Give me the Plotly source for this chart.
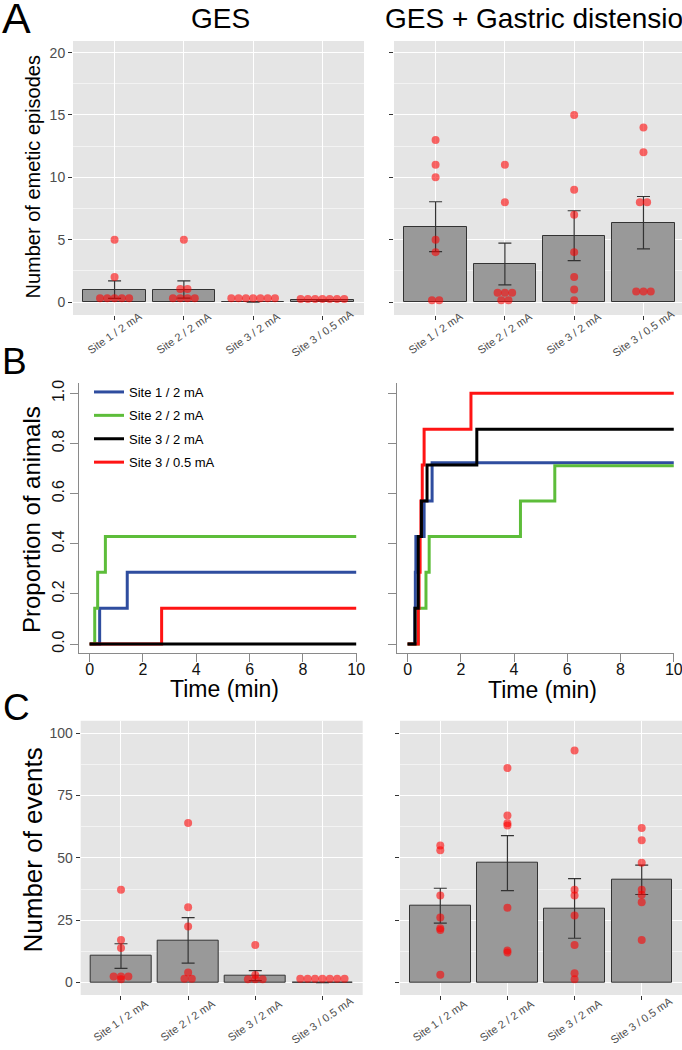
import plotly.graph_objects as go

W, H = 682, 1050
FONT = "Liberation Sans, Arial, Helvetica, sans-serif"

# ---------------- data ----------------
categories = ["Site 1 / 2 mA", "Site 2 / 2 mA", "Site 3 / 2 mA", "Site 3 / 0.5 mA"]
cat_pos = [1, 2, 3, 4]

# Panel A - emetic episodes (GES)
a_ges_mean = [1.0, 1.0, 0.0, 0.15]
a_ges_se = [0.70, 0.69, 0.0, 0.0]
a_ges_pts = [
    [5, 2, 0.3, 0.3, 0.3, 0.3, 0.3],
    [5, 1.05, 1.05, 0.3, 0.3, 0.3, 0.3],
    [0.3, 0.3, 0.3, 0.3, 0.3, 0.3, 0.3],
    [0.25, 0.25, 0.25, 0.25, 0.25, 0.25, 0.25],
]
# Panel A - emetic episodes (GES + gastric distension)
a_gd_mean = [6.04, 3.05, 5.32, 6.36]
a_gd_se = [2.0, 1.68, 2.0, 2.1]
a_gd_pts = [
    [13, 11, 10, 5, 4, 0.15, 0.15],
    [11, 8, 0.75, 0.75, 0.75, 0.15, 0.15],
    [15, 9, 7, 4, 2, 1, 0.15],
    [14, 12, 8, 8, 0.85, 0.85, 0.85],
]

# Panel B - cumulative proportion of animals (time in min)
b_ges_t = {
    "Site 1 / 2 mA": [0, 0.375, 1.41, 10],
    "Site 2 / 2 mA": [0, 0.19, 0.30, 0.59, 10],
    "Site 3 / 0.5 mA": [0, 2.70, 10],
    "Site 3 / 2 mA": [0, 10],
}
b_ges_p = {
    "Site 1 / 2 mA": [0, 0.143, 0.286, 0.286],
    "Site 2 / 2 mA": [0, 0.143, 0.286, 0.429, 0.429],
    "Site 3 / 0.5 mA": [0, 0.143, 0.143],
    "Site 3 / 2 mA": [0, 0],
}
b_gd_t = {
    "Site 1 / 2 mA": [0, 0.27, 0.29, 0.31, 0.62, 0.92, 10],
    "Site 2 / 2 mA": [0, 0.40, 0.69, 0.81, 4.24, 5.53, 10],
    "Site 3 / 0.5 mA": [0, 0.40, 0.43, 0.47, 0.50, 0.55, 0.62, 2.38, 10],
    "Site 3 / 2 mA": [0, 0.28, 0.40, 0.52, 0.73, 2.60, 10],
}
b_gd_p = {
    "Site 1 / 2 mA": [0, 0.143, 0.286, 0.429, 0.571, 0.723, 0.723],
    "Site 2 / 2 mA": [0, 0.143, 0.286, 0.429, 0.571, 0.711, 0.711],
    "Site 3 / 0.5 mA": [0, 0.143, 0.286, 0.429, 0.571, 0.714, 0.857, 1.0, 1.0],
    "Site 3 / 2 mA": [0, 0.143, 0.429, 0.571, 0.714, 0.857, 0.857],
}
line_colors = {
    "Site 1 / 2 mA": "#2f4d9f",
    "Site 2 / 2 mA": "#5dbd3a",
    "Site 3 / 2 mA": "#000000",
    "Site 3 / 0.5 mA": "#ff1414",
}
draw_order = ["Site 1 / 2 mA", "Site 2 / 2 mA", "Site 3 / 0.5 mA", "Site 3 / 2 mA"]
legend_rank = {"Site 1 / 2 mA": 1, "Site 2 / 2 mA": 2, "Site 3 / 2 mA": 3, "Site 3 / 0.5 mA": 4}

# Panel C - number of events
c_ges_mean = [10.6, 16.9, 2.8, 0.0]
c_ges_se = [4.95, 9.15, 2.0, 0.0]
c_ges_pts = [
    [37.2, 17.1, 13.8, 2.4, 2.4, 2.4, 1.3],
    [64, 30.2, 22.5, 4, 1.5, 1.5],
    [15.1, 3.0, 1.3, 1.3, 1.3],
    [1.5, 1.5, 1.5, 1.5, 1.5, 1.5, 1.5],
]
c_gd_mean = [30.8, 47.9, 29.7, 41.2]
c_gd_se = [7.0, 11.05, 11.95, 5.9]
c_gd_pts = [
    [55, 53, 34.9, 26.1, 21.8, 21.1, 3.1],
    [86, 67, 63.9, 63, 30, 12.8, 12],
    [93, 37.2, 34.9, 26.9, 15.1, 3.7, 1.3],
    [62, 57.1, 48, 37.2, 35.2, 32.2, 17.1],
]

# ---------------- helpers ----------------
def xd(a, b):
    return [a / W, min(b / W, 1.0)]

def yd(top, bottom):
    return [1 - bottom / H, 1 - top / H]

def px_x(p):
    return p / W

def px_y(p):
    return 1 - p / H

fig = go.Figure()

def dot_xy(pts, step):
    xs, ys = [], []
    for ci, vals in enumerate(pts):
        groups = {}
        for v in vals:
            groups.setdefault(v, 0)
            groups[v] += 1
        for v, n in groups.items():
            for k in range(n):
                xs.append(cat_pos[ci] + (k - (n - 1) / 2) * step)
                ys.append(v)
    return xs, ys

def bar_panel(xa, ya, mean, se, pts, step):
    fig.add_trace(go.Bar(
        x=cat_pos, y=mean, width=0.9, xaxis=xa, yaxis=ya, showlegend=False,
        marker=dict(color="#999999", line=dict(color="#333333", width=1)),
        error_y=dict(type="data", array=se, color="#333333", thickness=1.2, width=6.5),
    ))
    xs, ys = dot_xy(pts, step)
    fig.add_trace(go.Scatter(
        x=xs, y=ys, mode="markers", xaxis=xa, yaxis=ya, showlegend=False,
        marker=dict(size=8, color="rgba(255,0,0,0.58)", line=dict(width=0)),
    ))

bar_panel("x", "y", a_ges_mean, a_ges_se, a_ges_pts, 0.105)
bar_panel("x2", "y2", a_gd_mean, a_gd_se, a_gd_pts, 0.105)
bar_panel("x5", "y5", c_ges_mean, c_ges_se, c_ges_pts, 0.11)
bar_panel("x6", "y6", c_gd_mean, c_gd_se, c_gd_pts, 0.11)

for name in draw_order:
    fig.add_trace(go.Scatter(
        x=b_ges_t[name], y=b_ges_p[name], mode="lines", line_shape="hv",
        line=dict(color=line_colors[name], width=3), name=name,
        legendrank=legend_rank[name], legendgroup="g%d" % legend_rank[name],
        xaxis="x3", yaxis="y3", showlegend=True,
    ))
for name in draw_order:
    fig.add_trace(go.Scatter(
        x=b_gd_t[name], y=b_gd_p[name], mode="lines", line_shape="hv",
        line=dict(color=line_colors[name], width=3), name=name,
        xaxis="x4", yaxis="y4", showlegend=False,
    ))

# ---------------- axes ----------------
gg_x = dict(showgrid=True, gridcolor="white", gridwidth=1.1, zeroline=False,
            tickvals=cat_pos, showticklabels=False, ticks="outside", ticklen=4,
            tickcolor="#333333", tickwidth=1, showline=False, automargin=False)
def gg_y(dtick, minor, labels, rng):
    return dict(range=rng, showgrid=True, gridcolor="white", gridwidth=1.1, zeroline=False,
                dtick=dtick, tick0=0, ticks="outside", ticklen=4, tickcolor="#333333",
                showticklabels=labels, tickfont=dict(size=14, color="#4d4d4d", family=FONT),
                automargin=False,
                minor=dict(dtick=minor, tick0=minor, showgrid=True, gridcolor="#f3f3f3",
                           gridwidth=0.6, ticks=""))

r_x = dict(showgrid=False, zeroline=False, showline=True, linecolor="#8a8a8a", linewidth=1,
           ticks="outside", ticklen=8, tickcolor="#8a8a8a", tickvals=[0, 2, 4, 6, 8, 10],
           tickfont=dict(size=16, color="#111111", family=FONT), automargin=False,
           ticklabelstandoff=-7, ticklabeloverflow="allow")
def r_y(labels):
    return dict(range=[-0.037, 1.04], showgrid=False, zeroline=False, showline=True,
                linecolor="#8a8a8a", linewidth=1, ticks="outside", ticklen=8,
                tickcolor="#8a8a8a", tickvals=[0, 0.2, 0.4, 0.6, 0.8, 1.0],
                ticktext=["0.0", "0.2", "0.4", "0.6", "0.8", "1.0"], tickangle=-90,
                showticklabels=labels, tickfont=dict(size=16, color="#111111", family=FONT),
                automargin=False)

fig.update_layout(
    xaxis=dict(gg_x, domain=xd(73, 364), range=[0.4, 4.6], anchor="y"),
    yaxis=dict(gg_y(5, 2.5, True, [-1.04, 20.93]), domain=yd(41, 315), anchor="x"),
    xaxis2=dict(gg_x, domain=xd(394, 682), range=[0.4, 4.556], anchor="y2"),
    yaxis2=dict(gg_y(5, 2.5, False, [-1.04, 20.93]), domain=yd(41, 315), anchor="x2"),
    xaxis3=dict(r_x, domain=xd(79, 357), range=[-0.4, 10.03], anchor="y3"),
    yaxis3=dict(r_y(True), domain=yd(383.3, 653.3), anchor="x3"),
    xaxis4=dict(r_x, domain=xd(396.7, 674.3), range=[-0.41, 10.02], anchor="y4"),
    yaxis4=dict(r_y(False), domain=yd(383.3, 653.3), anchor="x4"),
    xaxis5=dict(gg_x, domain=xd(80.7, 362.7), range=[0.4, 4.6], anchor="y5"),
    yaxis5=dict(gg_y(25, 12.5, True, [-5, 105]), domain=yd(720.7, 995), anchor="x5"),
    xaxis6=dict(gg_x, domain=xd(400, 682), range=[0.4, 4.6], anchor="y6"),
    yaxis6=dict(gg_y(25, 12.5, False, [-5, 105]), domain=yd(720.7, 995), anchor="x6"),
)

# grey ggplot panel backgrounds
shapes = []
for xa, ya in [("x", "y"), ("x2", "y2"), ("x5", "y5"), ("x6", "y6")]:
    shapes.append(dict(type="rect", xref=xa + " domain", yref=ya + " domain",
                       x0=0, x1=1, y0=0, y1=1, fillcolor="#e5e5e5", line=dict(width=0),
                       layer="below"))

# ---------------- text ----------------
ann = []
def text(s, x, y, size, angle=0, xanchor="center", color="black"):
    ann.append(dict(text=s, x=px_x(x), y=px_y(y), xref="paper", yref="paper",
                    showarrow=False, textangle=angle, xanchor=xanchor, yanchor="middle",
                    font=dict(size=size, color=color, family=FONT)))

text("A", 0, 18, 43, xanchor="left")
text("B", 0, 361, 37, xanchor="left")
text("C", 1, 707, 37, xanchor="left")
text("GES", 220, 19, 28)
text("GES + Gastric distension", 541.5, 19, 28)
text("Number of emetic episodes", 32, 177.5, 20, angle=-90)
text("Proportion of animals", 31, 520, 24, angle=-90)
text("Number of events", 32, 850.5, 26, angle=-90)
text("Time (min)", 224.5, 689, 23)
text("Time (min)", 542, 690, 23)

# category tick labels (centred under ticks, rotated)
for xa, ycen in [("x", 333), ("x2", 333), ("x5", 1020), ("x6", 1020)]:
    for c, p in zip(categories, cat_pos):
        ann.append(dict(text=c, x=p, y=px_y(ycen), xref=xa, yref="paper", showarrow=False,
                        textangle=-35, xanchor="center", yanchor="middle",
                        font=dict(size=11, color="#4d4d4d", family=FONT)))

fig.update_layout(
    width=W, height=H, margin=dict(l=0, r=0, t=0, b=0, autoexpand=False),
    paper_bgcolor="white", plot_bgcolor="white",
    shapes=shapes, annotations=ann, bargap=0,
    font=dict(family=FONT),
    legend=dict(x=px_x(89), y=px_y(377), xanchor="left", yanchor="top",
                bgcolor="rgba(0,0,0,0)", font=dict(size=13, color="black", family=FONT),
                itemwidth=30, traceorder="grouped", tracegroupgap=3.5),
)

fig.write_html(
    "out.html",
    config={"displayModeBar": False},
    post_script=(
        "document.body.style.margin='0';"
        "document.body.style.overflow='hidden';"
        "document.documentElement.style.overflow='hidden';"
    ),
)
